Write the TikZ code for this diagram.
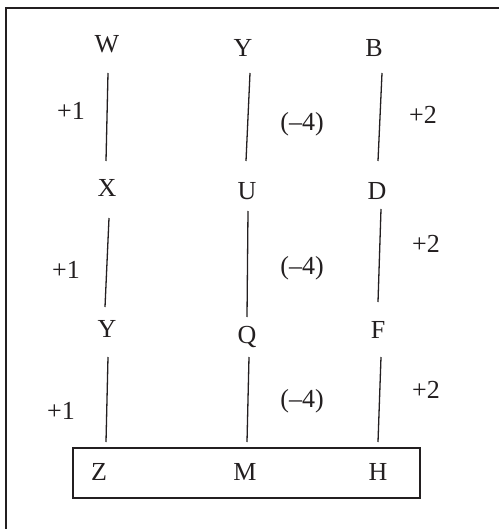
\documentclass[tikz,border=0pt]{standalone}
\usepackage{fontspec}
\setmainfont{Liberation Serif}
\usetikzlibrary{calc}
\definecolor{ink}{HTML}{231F20}
\begin{document}
\begin{tikzpicture}[x=1pt,y=-1pt,
  lbl/.style={inner sep=0pt,text=ink,font=\fontsize{26}{31}\selectfont},
  conn/.style={draw=ink,line width=1.3pt},
  frame/.style={draw=ink,line width=1.6pt},
  boxed/.style={draw=ink,line width=1.5pt}]
\useasboundingbox (0,0) rectangle (498,529);
\fill[white] (0,0) rectangle (498,529);
\draw[frame] (6,535) -- (6,8) -- (505,8);
% letters
\node[lbl] (W)  at (107,44) {W};
\node[lbl] (Y1) at (243,48) {Y};
\node[lbl] (B)  at (374,48) {B};
\node[lbl] (X)  at (107,188) {X};
\node[lbl] (U)  at (247,191) {U};
\node[lbl] (D)  at (377,191) {D};
\node[lbl] (Y3) at (107,329) {Y};
\node[lbl] (Q)  at (247,337) {Q};
\node[lbl] (F)  at (378,330) {F};
\node[lbl] (Z)  at (99,472) {Z};
\node[lbl] (M)  at (245,472) {M};
\node[lbl] (H)  at (378,472) {H};
% step labels
\node[lbl] (p1a) at (71,111) {+1};
\node[lbl] (m4a) at (302,124) {(--4)};
\node[lbl] (p2a) at (423,115) {+2};
\node[lbl] (p1b) at (66,270) {+1};
\node[lbl] (m4b) at (302,268) {(--4)};
\node[lbl] (p2b) at (426,244) {+2};
\node[lbl] (p1c) at (61,411) {+1};
\node[lbl] (m4c) at (302,401) {(--4)};
\node[lbl] (p2c) at (426,390) {+2};
% connectors
\draw[conn] ($(W)+(1,29)$) -- ($(X)+(-1,-27)$);
\draw[conn] ($(Y1)+(7,25)$) -- ($(U)+(-1,-30)$);
\draw[conn] ($(B)+(8,25)$) -- ($(D)+(1,-30)$);
\draw[conn] ($(X)+(2,30)$) -- ($(Y3)+(-2,-22)$);
\draw[conn] ($(U)+(1,20)$) -- ($(Q)+(0,-20)$);
\draw[conn] ($(D)+(4,18)$) -- ($(F)+(0,-28)$);
\draw[conn] ($(Y3)+(1,28)$) -- ($(Z)+(7,-30)$);
\draw[conn] ($(Q)+(2,20)$) -- ($(M)+(2,-30)$);
\draw[conn] ($(F)+(3,27)$) -- ($(H)+(0,-30)$);
% answer box
\draw[boxed] (73,448) rectangle (420,498);
\end{tikzpicture}
\end{document}
